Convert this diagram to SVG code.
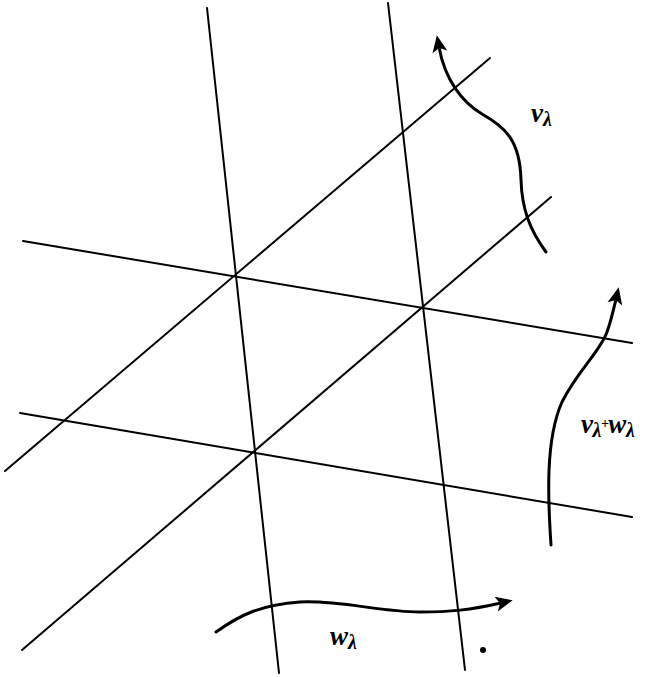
<svg xmlns="http://www.w3.org/2000/svg" width="652" height="677" viewBox="0 0 652 677">
<style>
.grid{stroke:#000;stroke-width:2;fill:none;stroke-linecap:round}
.curve{stroke:#000;stroke-width:3;fill:none;stroke-linecap:round}
.lbl{font-family:"Liberation Serif","DejaVu Serif",serif;font-style:italic;font-weight:bold;font-size:27px;fill:#000}
.sub{font-size:20px}
</style>
<defs>
<marker id="arr" markerUnits="userSpaceOnUse" markerWidth="30" markerHeight="30" refX="0" refY="0" viewBox="-10 -10 30 20" orient="auto" overflow="visible">
<path d="M12,0 L-5,-7.5 L-1,0 L-5,7.5 Z" fill="#000"/>
</marker>
</defs>
<rect width="652" height="677" fill="#fff"/>
<g id="grid">
<line class="grid" x1="207" y1="8" x2="279" y2="673"/>
<line class="grid" x1="388" y1="3" x2="465" y2="670"/>
<line class="grid" x1="23" y1="241" x2="632" y2="343"/>
<line class="grid" x1="20" y1="413" x2="632" y2="517"/>
<line class="grid" x1="5" y1="471" x2="490" y2="58"/>
<line class="grid" x1="22" y1="650" x2="551" y2="197"/>
</g>
<g id="connectors">
<path id="v" class="curve" marker-end="url(#arr)" d="M546,252 C530,230 522,210 521,180 C520,140 505,127 482,114 C462,102 445,80 439,47"/>
<path id="vw" class="curve" marker-end="url(#arr)" d="M551,545 C548,500 545,440 562,402 C578,370 600,352 607,332 C611,321 613,312 616,299"/>
<path id="w" class="curve" marker-end="url(#arr)" d="M216,632 C240,615 260,605 300,602 C340,600 380,612 420,612 C450,612 470,610 501,603"/>
</g>
<g id="labels">
<text class="lbl" x="531" y="122">v<tspan class="sub" dy="4">λ</tspan></text>
<text class="lbl" x="581" y="433" letter-spacing="-0.5">v<tspan class="sub" dy="4">λ</tspan><tspan dy="-9" font-size="14">+</tspan><tspan dy="5">w</tspan><tspan class="sub" dy="4">λ</tspan></text>
<text class="lbl" x="330" y="645">w<tspan class="sub" dy="4">λ</tspan></text>
<circle cx="483" cy="650" r="3" fill="#000"/>
</g>
</svg>
